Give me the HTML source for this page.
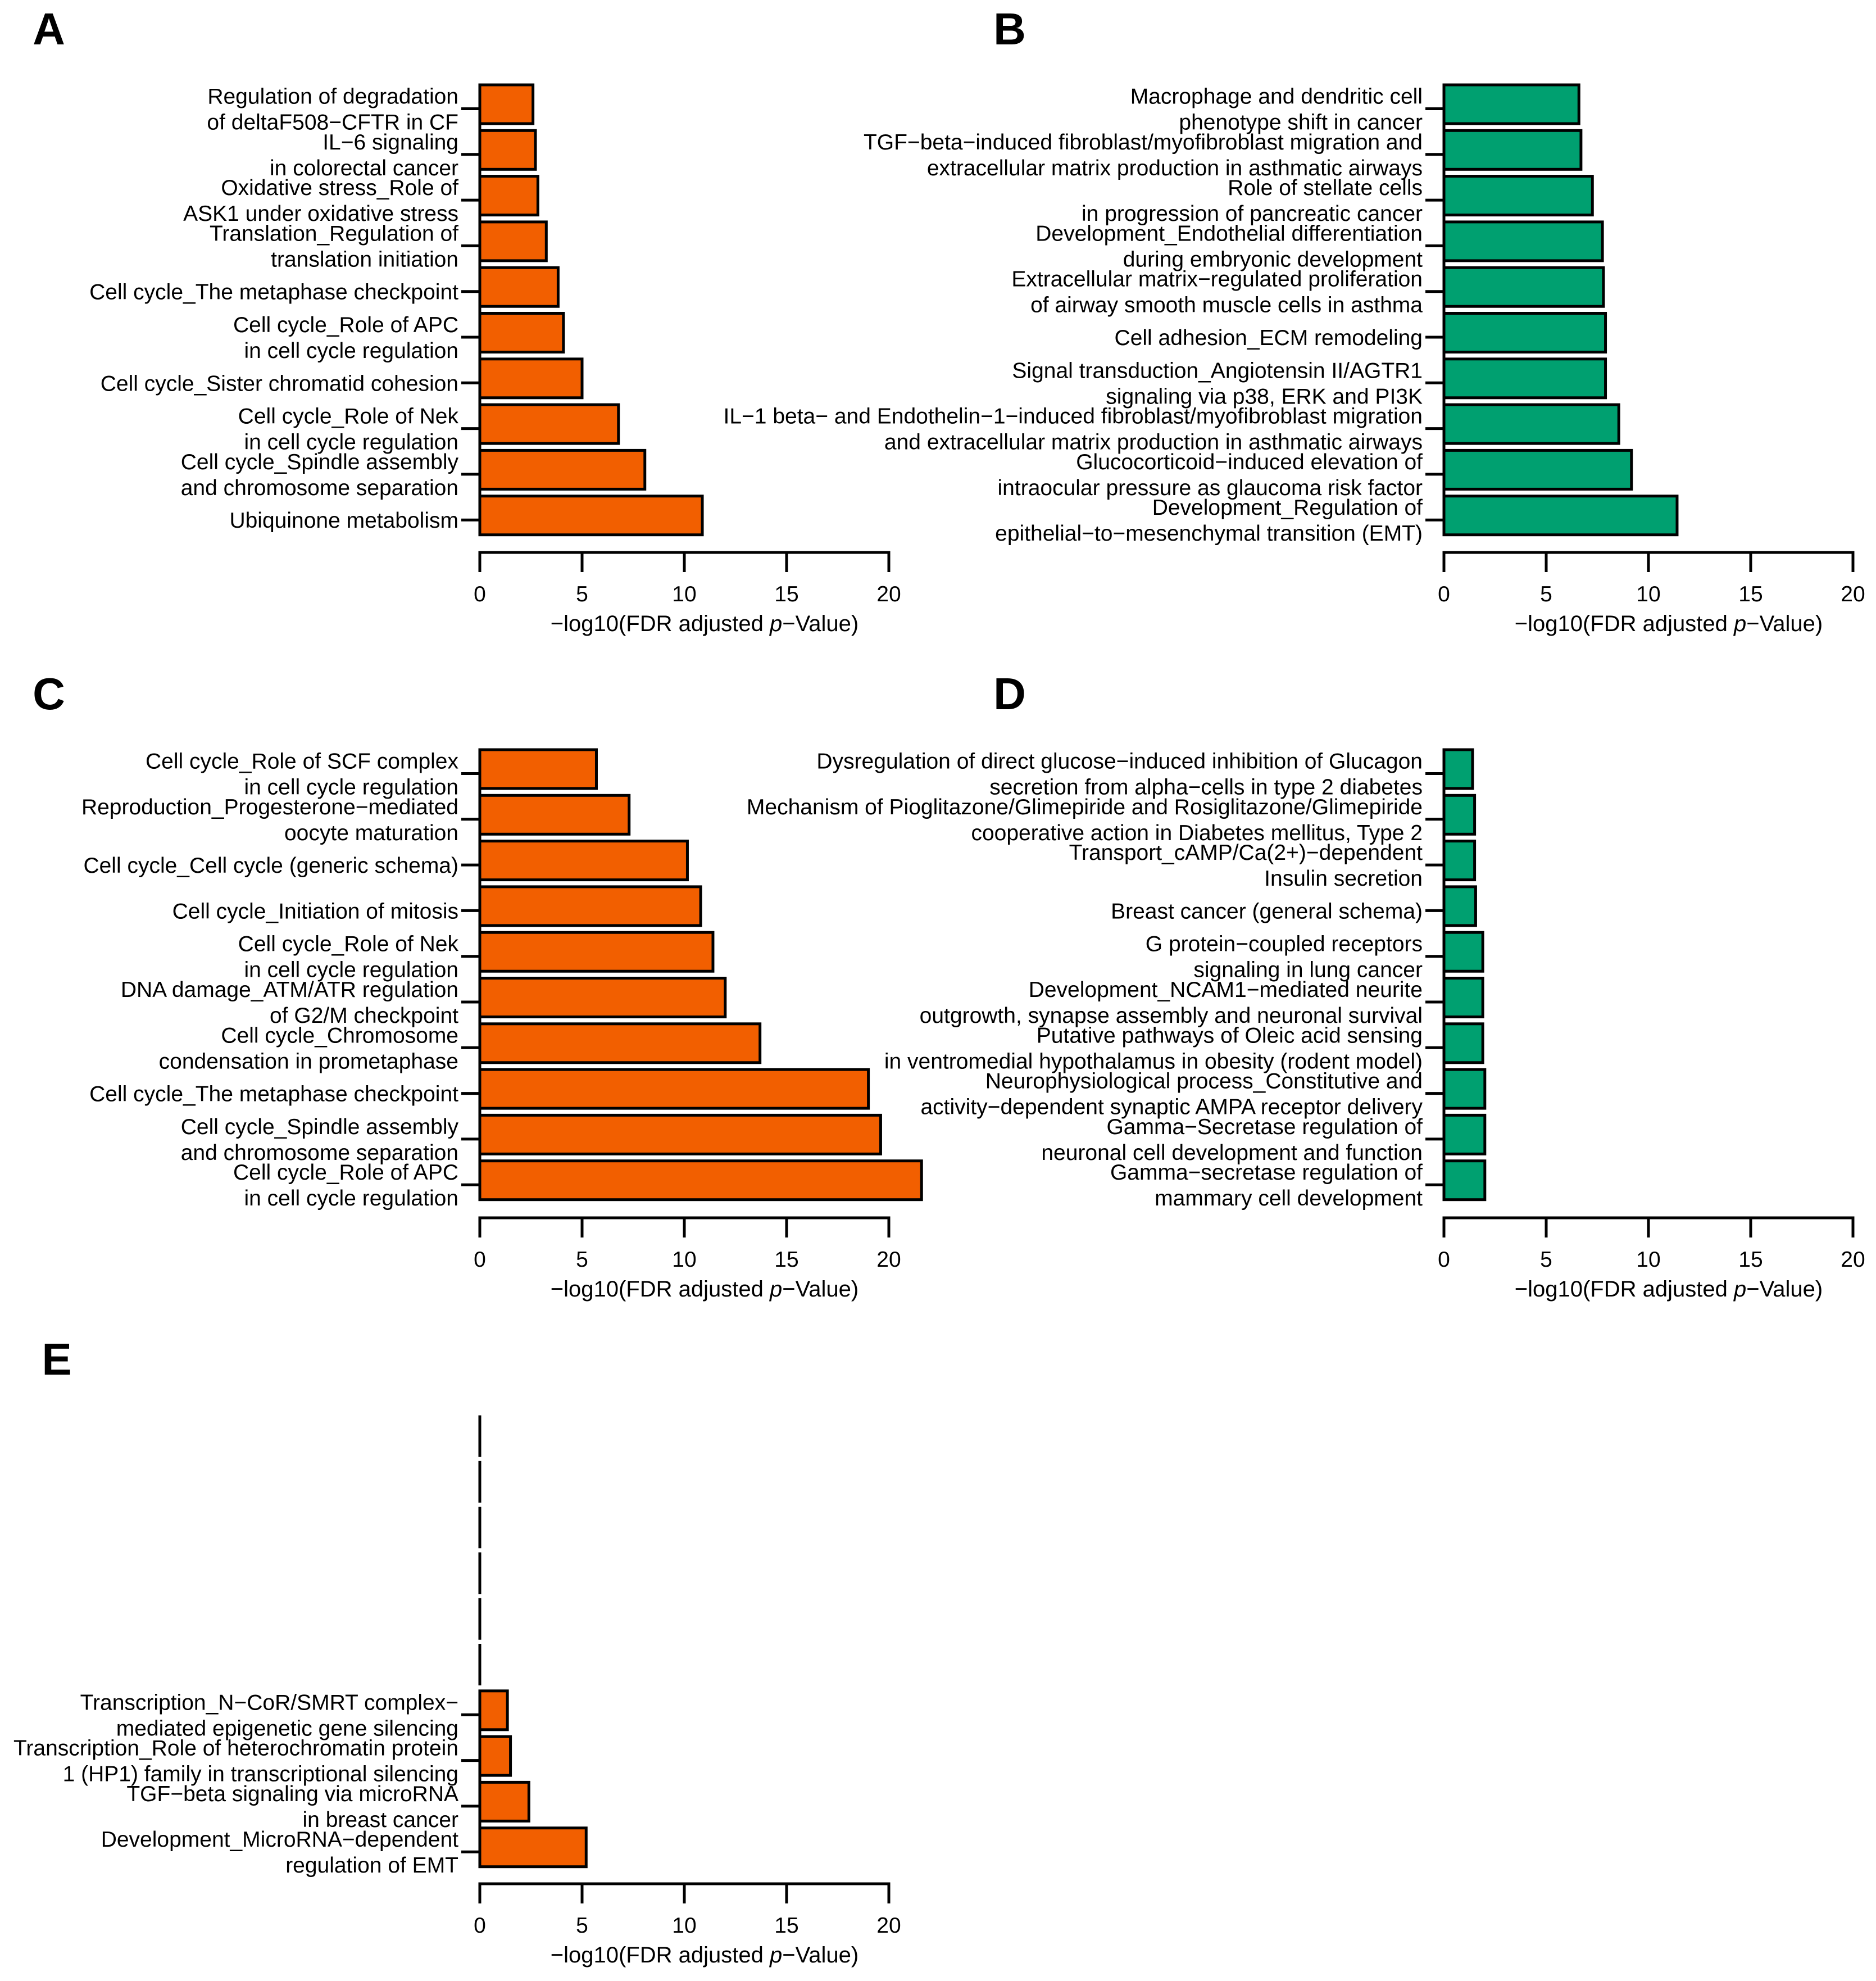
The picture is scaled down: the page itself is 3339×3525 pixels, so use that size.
<!DOCTYPE html>
<html><head><meta charset="utf-8"><style>
html,body{margin:0;padding:0;background:#fff}
svg text{font-family:"Liberation Sans",Arial,sans-serif;fill:#000}
</style></head><body>
<svg id="fig" width="3339" height="3520" viewBox="0 0 3339 3520" xmlns="http://www.w3.org/2000/svg"></svg>
<script>
// Panel data (bars listed top to bottom)
const labelsA = [["Regulation of degradation","of deltaF508\u2212CFTR in CF"],["IL\u22126 signaling","in colorectal cancer"],["Oxidative stress_Role of","ASK1 under oxidative stress"],["Translation_Regulation of","translation initiation"],["Cell cycle_The metaphase checkpoint"],["Cell cycle_Role of APC","in cell cycle regulation"],["Cell cycle_Sister chromatid cohesion"],["Cell cycle_Role of Nek","in cell cycle regulation"],["Cell cycle_Spindle assembly","and chromosome separation"],["Ubiquinone metabolism"]];
const valuesA = [2.6,2.72,2.84,3.25,3.83,4.09,5.0,6.78,8.07,10.88];
const labelsB = [["Macrophage and dendritic cell","phenotype shift in cancer"],["TGF\u2212beta\u2212induced fibroblast/myofibroblast migration and","extracellular matrix production in asthmatic airways"],["Role of stellate cells","in progression of pancreatic cancer"],["Development_Endothelial differentiation","during embryonic development"],["Extracellular matrix\u2212regulated proliferation","of airway smooth muscle cells in asthma"],["Cell adhesion_ECM remodeling"],["Signal transduction_Angiotensin II/AGTR1","signaling via p38, ERK and PI3K"],["IL\u22121 beta\u2212 and Endothelin\u22121\u2212induced fibroblast/myofibroblast migration","and extracellular matrix production in asthmatic airways"],["Glucocorticoid\u2212induced elevation of","intraocular pressure as glaucoma risk factor"],["Development_Regulation of","epithelial\u2212to\u2212mesenchymal transition (EMT)"]];
const valuesB = [6.6,6.7,7.26,7.75,7.8,7.9,7.9,8.55,9.17,11.4];
const labelsC = [["Cell cycle_Role of SCF complex","in cell cycle regulation"],["Reproduction_Progesterone\u2212mediated","oocyte maturation"],["Cell cycle_Cell cycle (generic schema)"],["Cell cycle_Initiation of mitosis"],["Cell cycle_Role of Nek","in cell cycle regulation"],["DNA damage_ATM/ATR regulation","of G2/M checkpoint"],["Cell cycle_Chromosome","condensation in prometaphase"],["Cell cycle_The metaphase checkpoint"],["Cell cycle_Spindle assembly","and chromosome separation"],["Cell cycle_Role of APC","in cell cycle regulation"]];
const valuesC = [5.7,7.3,10.15,10.8,11.4,12.0,13.7,19.0,19.6,21.6];
const labelsD = [["Dysregulation of direct glucose\u2212induced inhibition of Glucagon","secretion from alpha\u2212cells in type 2 diabetes"],["Mechanism of Pioglitazone/Glimepiride and Rosiglitazone/Glimepiride","cooperative action in Diabetes mellitus, Type 2"],["Transport_cAMP/Ca(2+)\u2212dependent","Insulin secretion"],["Breast cancer (general schema)"],["G protein\u2212coupled receptors","signaling in lung cancer"],["Development_NCAM1\u2212mediated neurite","outgrowth, synapse assembly and neuronal survival"],["Putative pathways of Oleic acid sensing","in ventromedial hypothalamus in obesity (rodent model)"],["Neurophysiological process_Constitutive and","activity\u2212dependent synaptic AMPA receptor delivery"],["Gamma\u2212Secretase regulation of","neuronal cell development and function"],["Gamma\u2212secretase regulation of","mammary cell development"]];
const valuesD = [1.4,1.5,1.5,1.55,1.9,1.9,1.9,2.0,2.0,2.0];
const labelsE = [null,null,null,null,null,null,["Transcription_N\u2212CoR/SMRT complex\u2212","mediated epigenetic gene silencing"],["Transcription_Role of heterochromatin protein","1 (HP1) family in transcriptional silencing"],["TGF\u2212beta signaling via microRNA","in breast cancer"],["Development_MicroRNA\u2212dependent","regulation of EMT"]];
const valuesE = [0,0,0,0,0,0,1.35,1.5,2.4,5.2];
const xTicks = [0,5,10,15,20];

const NS="http://www.w3.org/2000/svg";
const svg=document.getElementById('fig');
function mk(tag,attrs,parent){const e=document.createElementNS(NS,tag);for(const k in attrs)e.setAttribute(k,attrs[k]);(parent||svg).appendChild(e);return e;}

function panel(letter,lx,ly,x0,top,axisY,labels,values,color){
  const g=mk('g',{});
  
  
  const t=mk('text',{x:lx,y:ly,'font-size':80,'font-weight':'bold','text-anchor':'middle'},g);
  t.textContent=letter;
  
  
  const xs=v=>x0+v*36.4;
  const slot=81.3, bh=69;
  let tickYs=[];
  values.forEach((v,i)=>{
    const y=top+i*slot;
    const w=xs(v)-xs(0);
    let r;
    if(w>0.5){
      r=mk('rect',{x:xs(0),y:y,width:w,height:bh,fill:color,stroke:'#000','stroke-width':5},g);
    } else {
      r=mk('line',{x1:xs(0),x2:xs(0),y1:y-2.5,y2:y+bh+2.5,stroke:'#000','stroke-width':5},g);
    }
    
    
    const lab=labels[i];
    if(lab){
      const ty=y+bh/2+8;tickYs.push(ty);
      mk('line',{x1:xs(0)-33,x2:xs(0),y1:ty,y2:ty,stroke:'#000','stroke-width':5},g);
      const lines=lab.length===2?[ty-23,ty+23]:[ty];
      lab.forEach((s,j)=>{
        const tx=mk('text',{x:xs(0)-38,y:lines[j]+14,'font-size':39,'text-anchor':'end'},g);
        tx.textContent=s;
        
        
      });
    }
  });
  if(tickYs.length){
    mk('line',{x1:xs(0),x2:xs(0),y1:Math.min(...tickYs),y2:Math.max(...tickYs),stroke:'#000','stroke-width':5},g);
  }
  const ax=mk('line',{x1:xs(0),x2:xs(20),y1:axisY,y2:axisY,stroke:'#000','stroke-width':5,'stroke-linecap':'square'},g);
  
  
  xTicks.forEach(v=>{
    mk('line',{x1:xs(v),x2:xs(v),y1:axisY,y2:axisY+35,stroke:'#000','stroke-width':5},g);
    const tl=mk('text',{x:xs(v),y:axisY+87,'font-size':39,'text-anchor':'middle'},g);
    tl.textContent=v;
    
    
  });
  const ti=mk('text',{x:xs(10)+36,y:axisY+140,'font-size':40,'text-anchor':'middle'},g);
  
  
  const a=document.createElementNS(NS,'tspan');a.textContent='\u2212log10(FDR adjusted ';ti.appendChild(a);
  const b=document.createElementNS(NS,'tspan');b.setAttribute('font-style','italic');b.textContent='p';ti.appendChild(b);
  const c=document.createElementNS(NS,'tspan');c.textContent='\u2212Value)';ti.appendChild(c);
}
const OR='#F25F00', GR='#00A070';
panel('A',87,79,854,151,983,labelsA,valuesA,OR);
panel('B',1797,79,2570,151,983,labelsB,valuesB,GR);
panel('C',87,1262,854,1334,2167,labelsC,valuesC,OR);
panel('D',1797,1262,2570,1334,2167,labelsD,valuesD,GR);
panel('E',101,2446,854,2521,3352,labelsE,valuesE,OR);
</script>
</body></html>
